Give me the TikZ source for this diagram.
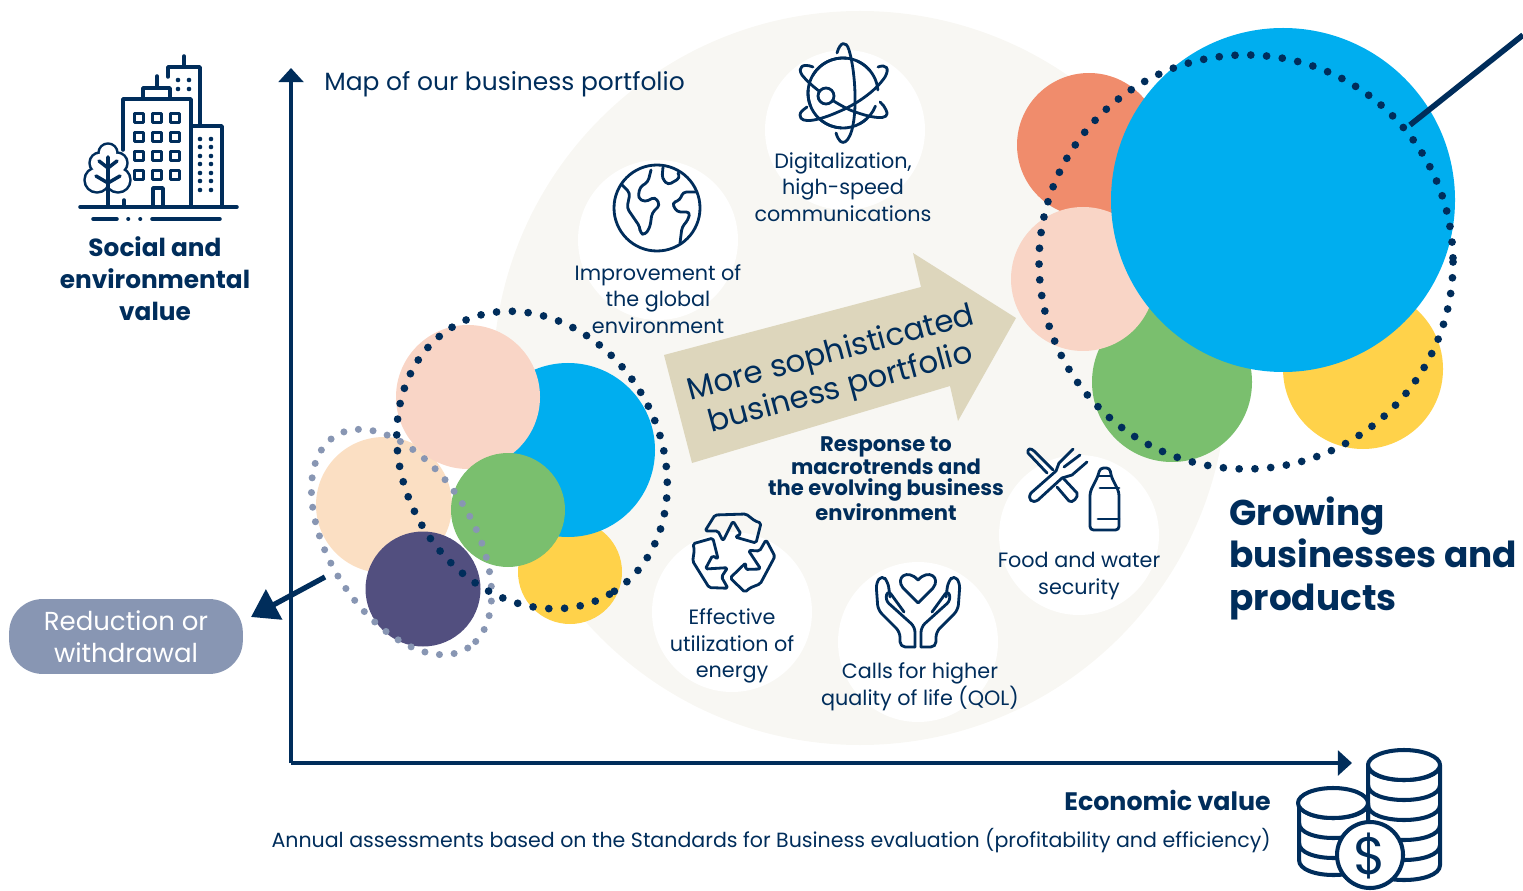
\documentclass[tikz,border=0pt]{standalone}
\usepackage{fontspec}
\usepackage{tikz}
\usetikzlibrary{arrows.meta}
\setmainfont{Poppins}

\definecolor{navy}{HTML}{002D5B}
\definecolor{blobbg}{HTML}{F8F7F3}
\definecolor{arrowbg}{HTML}{DDD6BC}
\definecolor{skyblue}{HTML}{00AEEF}
\definecolor{coral}{HTML}{F08C6C}
\definecolor{blush}{HTML}{F9D5C6}
\definecolor{leaf}{HTML}{7ABF6E}
\definecolor{sun}{HTML}{FFD24A}
\definecolor{sand}{HTML}{FBDFC3}
\definecolor{plum}{HTML}{524F7F}
\definecolor{slate}{HTML}{8896B3}

\tikzset{
  lab/.style={text=navy, align=center, inner sep=0pt, font=\fontsize{11.8}{15.2}\selectfont},
  icon/.style={draw=navy, line width=1.6pt, line join=round, line cap=round},
  heavyicon/.style={icon, line width=2pt},
  coinline/.style={icon, line width=2.3pt},
  axisline/.style={draw=navy, line width=2pt},
  navydots/.style={draw=navy, line width=4.4pt, line cap=round, dash pattern=on 0pt off 9pt},
  greydots/.style={draw=slate, line width=4pt, line cap=round, dash pattern=on 0pt off 8.4pt},
}

\begin{document}
\begin{tikzpicture}[x=0.02cm,y=-0.02cm]
    \useasboundingbox (0,0) rectangle (1523,891);

    % Pale background disc and white discs behind the icons
    \fill[blobbg] (860,378) circle [radius=367];
    \fill[white] (845,130) circle [radius=80];
    \fill[white] (658,240) circle [radius=80];
    \fill[white] (1079,535) circle [radius=80];
    \fill[white] (918,642) circle [radius=80];
    \fill[white] (732,612) circle [radius=80];

    % Axes
    \coordinate (origin) at (291,763);
    \coordinate (ytop) at (291,68);
    \coordinate (xend) at (1352,763);
    \draw[axisline, -{Triangle[length=8pt,width=14pt]}] (origin) -- (ytop);
    \draw[axisline, -{Triangle[length=8pt,width=14pt]}] (origin) -- (xend);

    % Large arrow
    \fill[arrowbg] (664,355) -- (921,287) -- (913,253) -- (1016,318) -- (958,421) -- (950,386) -- (692,463) -- cycle;
    \node[lab, rotate=15, font=\fontsize{17.6}{20.5}\selectfont] (arrowtext) at (836,372) {More sophisticated\\business portfolio};

    % Left cluster
    \coordinate (navyring) at (532,460);
    \coordinate (greyring) at (401.5,542);
    \fill[sun] (570,572) circle [radius=52];
    \fill[skyblue] (568,450) circle [radius=87];
    \fill[sand] (384,505) circle [radius=68];
    \fill[blush] (468,397) circle [radius=72];
    \fill[leaf] (508,510) circle [radius=57];
    \fill[plum] (423,589) circle [radius=57.5];
    \draw[greydots, rotate around={-58:(greyring)}] (greyring) ellipse [x radius=125, y radius=72];
    \draw[navydots, rotate around={-60:(navyring)}] (navyring) ellipse [x radius=155, y radius=128];

    % Right cluster
    \fill[coral] (1089,145) circle [radius=72];
    \fill[sun] (1363,369) circle [radius=80];
    \fill[leaf] (1172,382) circle [radius=80];
    \fill[blush] (1083,279) circle [radius=72];
    \fill[skyblue] (1283,200) circle [radius=172];
    \draw[navydots] (1246,262) circle [radius=207];
    \coordinate (rayin) at (1410,125);
    \coordinate (rayout) at (1523,35);
    \draw[navy, line width=3.2pt] (rayin) -- (rayout);

    % Reduction
    \node[fill=slate, rounded corners=19pt, minimum width=133pt, minimum height=42.6pt, inner sep=0pt,
          align=center, text=white, font=\fontsize{14.8}{18.2}\selectfont] (reduction) at (126,636.5) {Reduction or\\withdrawal};
    \coordinate (leavestart) at (325,577);
    \coordinate (leaveend) at (251,617);
    \draw[navy, line width=3pt, -{Triangle[length=15pt,width=19pt]}] (leavestart) -- (leaveend);

    % Labels
    \node[lab, font=\bfseries\fontsize{14.1}{18.2}\selectfont] (social) at (155,279) {Social and\\environmental\\value};
    \node[lab, anchor=west, font=\fontsize{14.2}{16}\selectfont] (maptitle) at (324,84) {Map of our business portfolio};
    \node[lab] (digital) at (843,187) {Digitalization,\\high-speed\\communications};
    \node[lab] (globelab) at (658,299) {Improvement of\\the global\\environment};
    \node[lab] (foodlab) at (1079,576) {Food and water\\security};
    \node[lab] (qollab) at (920,687) {Calls for higher\\quality of life (QOL)};
    \node[lab] (energylab) at (732,646) {Effective\\utilization of\\energy};
    \node[lab, font=\bfseries\fontsize{12}{12}\selectfont] (response) at (886,478.5) {Response to\\macrotrends and\\the evolving business\\environment};
    \node[lab, anchor=west, align=left, font=\bfseries\fontsize{20.4}{24.2}\selectfont] (growing) at (1229,558) {Growing\\businesses and\\products};
    \node[lab, anchor=east, font=\bfseries\fontsize{14.4}{16}\selectfont] (econ) at (1271,800) {Economic value};
    \node[lab, anchor=east, font=\fontsize{11.7}{14}\selectfont] (annual) at (1271,841) {Annual assessments based on the Standards for Business evaluation (profitability and efficiency)};

    % Buildings
    \draw[heavyicon] (80,207) -- (237,207);
    \draw[heavyicon] (93,219) -- (117,219) (128,219) -- (128.5,219) (140,219) -- (140.5,219) (152,219) -- (220,219);
    \draw[heavyicon] (123,150) -- (123,99) -- (191,99) -- (191,207);
    \draw[heavyicon] (143,99) -- (143,88) -- (170,88) -- (170,99) (157,88) -- (157,76);
    \draw[heavyicon] (168,77) -- (168,67) -- (200,67) -- (200,126) (184,67) -- (184,56);
    \draw[heavyicon] (191,126) -- (222,126) -- (222,207);
    \draw[heavyicon] (153,207) -- (153,188) -- (163,188) -- (163,207) (124,207) -- (124,200);
    \foreach \wx in {139,157,175}
      \foreach \wy in {118,137,156,175}
        \draw[heavyicon] (\wx-4.5,\wy-4.5) rectangle (\wx+4.5,\wy+4.5);
    \foreach \wy in {139,147,156,164,173,181,190} {
      \fill[navy] (200,\wy) circle [radius=2.3];
      \fill[navy] (211,\wy) circle [radius=2.3];
    }
    \foreach \wy in {80,89} {
      \fill[navy] (178,\wy) circle [radius=2.3];
      \fill[navy] (189,\wy) circle [radius=2.3];
    }
    % Tree
    \foreach \tx/\ty/\tr in {97/180/12,100/163/10,108/153/9,117/163/10,118/180/12}
      \draw[heavyicon] (\tx,\ty) circle [radius=\tr];
    \foreach \tx/\ty/\tr in {97/180/12,100/163/10,108/153/9,117/163/10,118/180/12}
      \fill[white] (\tx,\ty) circle [radius=\tr-0.8];
    \fill[white] (108,170) circle [radius=10];
    \draw[heavyicon] (108,157) -- (108,207) (108,168) -- (99,161) (108,168) -- (117,161) (108,183) -- (96,176) (108,183) -- (120,176);

    % Globe
    \draw[icon] (657,208) circle [radius=43];
    \draw[icon, rounded corners=2pt] (622,185) -- (630,193) -- (627,208) -- (640,227) -- (640,233) -- (645,235) -- (650,227) -- (652,213) -- (660,205) -- (655,197) -- (645,202) -- (638,198) -- (640,187) -- (648,182) -- (651,170);
    \draw[icon, rounded corners=2pt] (663,167) -- (662,178) -- (668,185) -- (680,178) -- (678,173);
    \draw[icon, rounded corners=2pt] (697,192) -- (683,192) -- (680,200) -- (672,203) -- (677,212) -- (690,212) -- (688,220) -- (682,227) -- (680,243);

    % Atom
    \coordinate (atom) at (843,93);
    \foreach \sa/\ea in {211/276,294/320,355/22,48/62,93/129,159/185}
      \draw[icon] (atom) ++(\sa:35) arc [start angle=\sa, end angle=\ea, radius=35];
    \draw[icon] (837,53) .. controls (840,42) and (846,40) .. (849,50) .. controls (855,70) and (857,105) .. (853,125) .. controls (850,142) and (841,150) .. (836,133);
    \draw[icon] (813,67) .. controls (803,63) and (797,67) .. (802,75) .. controls (812,88) and (835,103) .. (850,110) .. controls (870,118) and (892,122) .. (886,110) .. controls (885,107) and (883,105) .. (880,102);
    \draw[icon] (878,67) .. controls (886,64) and (890,68) .. (885,77) .. controls (875,92) and (855,105) .. (838,112) .. controls (820,120) and (800,125) .. (800,115) .. controls (800,112) and (803,110) .. (807,107);
    \draw[icon, fill=white] (826,96) circle [radius=8];

    % Recycling
    \foreach \ang in {0,120,240} {
      \begin{scope}[shift={(733,553)}, rotate=\ang]
        \draw[icon, rounded corners=1pt] (-28,-22) -- (-18,-38) -- (13,-39) -- (22,-32) -- (28,-30) -- (23,-10) -- (2,-16) -- (8,-19) -- (0,-32) -- (-10,-12) -- (-15,-22) -- cycle;
      \end{scope}
    }

    % Hands and heart
    \draw[icon] (918,603) -- (903,588) .. controls (895,578) and (907,568) .. (918,580) .. controls (929,568) and (941,578) .. (933,588) -- cycle;
    \foreach \sgn in {1,-1} {
      \begin{scope}[shift={(918,0)}, xscale=\sgn]
        \draw[icon, rounded corners=3pt] (-3,647) -- (-3,627) -- (-33,600) -- (-30,590) -- (-14,612);
        \draw[icon, rounded corners=3pt] (-3,647) -- (-18,647) -- (-18,632) -- (-40,610) -- (-42,583) -- (-36,575) -- (-30,582) -- (-28,597);
      \end{scope}
    }

    % Knife, fork and bottle
    \draw[icon] (1047,473) -- (1028,453) .. controls (1027,448) and (1031,448) .. (1034,451) -- (1053,470);
    \draw[icon] (1063,478) -- (1077,493) .. controls (1079,497) and (1072,504) .. (1069,501) -- (1057,487);
    \draw[icon] (1073,449) -- (1059,463) -- (1056,471) -- (1031,493) .. controls (1027,499) and (1032,504) .. (1038,500) -- (1062,478) -- (1072,475) -- (1087,462);
    \draw[icon] (1064,467) -- (1080,455);
    \draw[icon, rounded corners=2pt] (1100,468) -- (1110,468) -- (1111,476) -- (1119,492) -- (1119,530) -- (1090,530) -- (1090,492) -- (1098,476) -- cycle;
    \draw[icon] (1098,476) -- (1111,476) (1100,488) -- (1119,488) (1098,519) -- (1119,519);

    % Coins
    \draw[coinline, fill=white] (1368,765) -- (1368,865) .. controls (1368,885) and (1440,885) .. (1440,865) -- (1440,765);
    \foreach \ry in {765,785,805,825,845}
      \draw[coinline] (1368,\ry) .. controls (1368,\ry+20) and (1440,\ry+20) .. (1440,\ry);
    \draw[coinline, fill=white] (1404,765) ellipse [x radius=36, y radius=15];
    \draw[coinline, fill=white] (1299,803) -- (1299,860) .. controls (1299,880) and (1368,880) .. (1368,860) -- (1368,803) -- cycle;
    \foreach \ry in {803,823,843}
      \draw[coinline] (1299,\ry) .. controls (1299,\ry+20) and (1368,\ry+20) .. (1368,\ry);
    \draw[coinline, fill=white] (1333,803) ellipse [x radius=35, y radius=15];
    \draw[coinline, fill=white] (1370,855) circle [radius=33];
    \node[text=navy, inner sep=0pt, font=\fontsize{30}{30}\selectfont] (dollar) at (1370,856) {\$};
\end{tikzpicture}
\end{document}
